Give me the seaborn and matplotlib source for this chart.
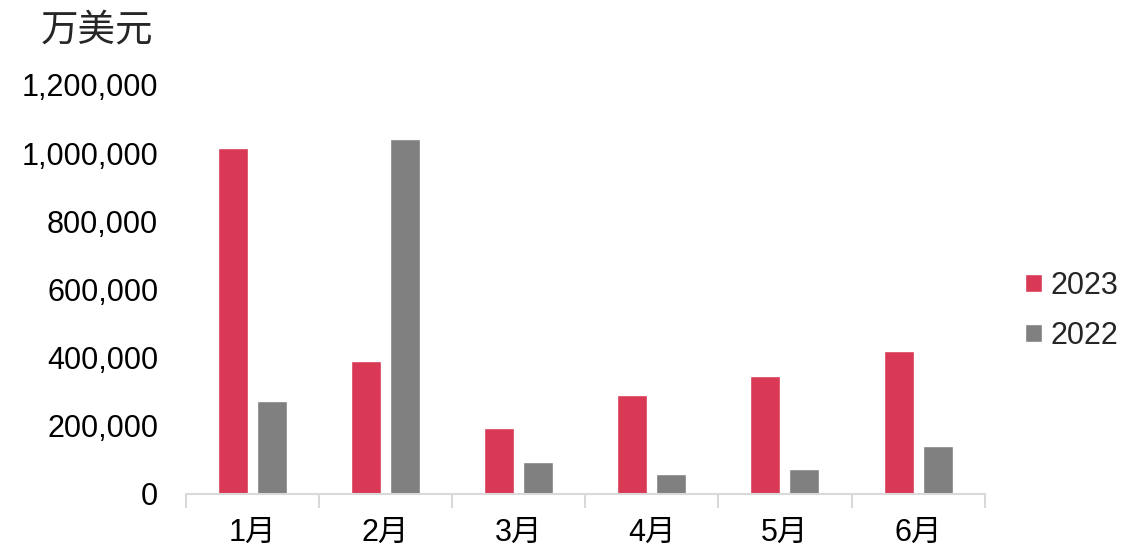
import matplotlib
matplotlib.use("Agg")
import matplotlib.pyplot as plt
import seaborn as sns
import pandas as pd
from matplotlib.ticker import FuncFormatter, FixedLocator

months = ["1月", "2月", "3月", "4月", "5月", "6月"]
years = ["2023", "2022"]
v2023 = [1015000, 390000, 193000, 290000, 346000, 419000]
v2022 = [272000, 1041000, 94000, 58000, 73000, 141000]
unit_label = "万美元"
colors = {"2023": "#D93955", "2022": "#808080"}

df = pd.DataFrame({
    "month": months * 2,
    "year": ["2023"] * len(months) + ["2022"] * len(months),
    "value": v2023 + v2022,
})

sns.set_theme(style="white")
plt.rcParams["font.family"] = ["Liberation Sans", "Noto Sans CJK SC", "DejaVu Sans"]

fig = plt.figure(figsize=(11.24, 5.49), dpi=100)
ax = fig.add_axes([0.1655, 0.1002, 0.876 - 0.1655, 0.8455 - 0.1002])

sns.barplot(data=df, x="month", y="value", hue="year", hue_order=years,
            order=months, palette=colors, width=0.586, gap=0.23,
            saturation=1, ax=ax, legend=True)

ax.set_ylim(0, 1200000)
ax.set_xlim(-0.5, 5.5)
ax.set_yticks(range(0, 1200001, 200000))
ax.yaxis.set_major_formatter(FuncFormatter(lambda v, p: f"{int(v):,}"))
ax.tick_params(axis="y", length=0, pad=20, labelsize=22, colors="#000000")
ax.tick_params(axis="x", which="major", length=0, pad=17, labelsize=22, colors="#000000")
ax.xaxis.set_minor_locator(FixedLocator([i - 0.5 for i in range(len(months) + 1)]))
ax.tick_params(axis="x", which="minor", length=10, width=1.5, color="#D9D9D9", bottom=True)
ax.set_xlabel("")
ax.set_ylabel("")
for s in ["top", "right", "left"]:
    ax.spines[s].set_visible(False)
ax.spines["bottom"].set_color("#D9D9D9")
ax.spines["bottom"].set_linewidth(1.5)
ax.grid(False)

for lab in ax.get_xticklabels():
    lab.set_fontfamily(["Liberation Sans", "Noto Sans CJK SC"])

fig.text(41 / 1124, 1 - 30 / 549, unit_label, fontsize=27, va="center", ha="left",
         family=["Noto Sans CJK SC", "DejaVu Sans"])

handles, labels = ax.get_legend_handles_labels()
ax.legend(handles, labels, loc="center left", bbox_to_anchor=(1025 / 1124, 1 - 311 / 549),
          bbox_transform=fig.transFigure, frameon=False, fontsize=22,
          handlelength=0.55, handleheight=0.55, handletextpad=0.3, labelspacing=0.65,
          borderaxespad=0, borderpad=0)

fig.savefig("out.png", dpi=100)
